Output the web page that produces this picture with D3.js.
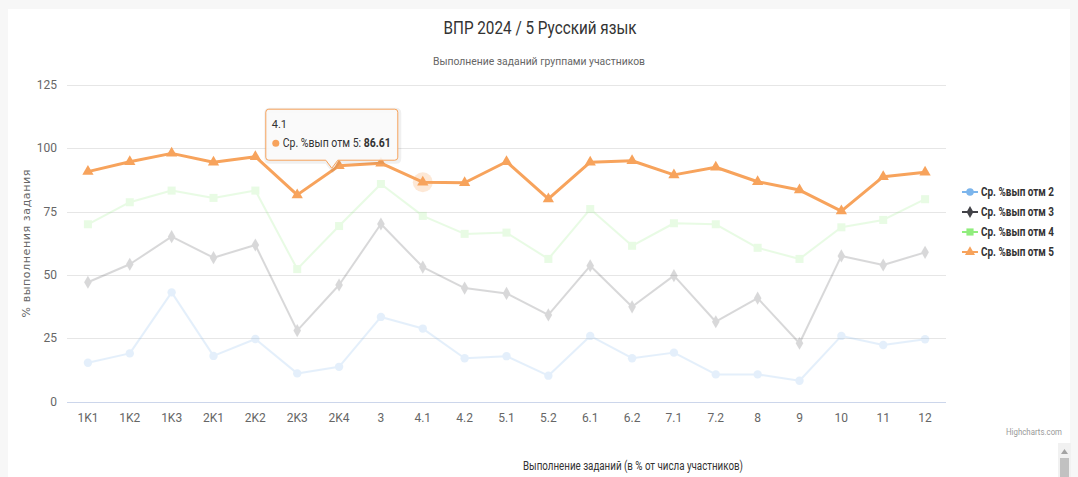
<!DOCTYPE html>
<html lang="ru">
<head>
<meta charset="UTF-8">
<title>ВПР 2024 / 5 Русский язык</title>
<script src="https://d3js.org/d3.v7.min.js"></script>
<style>
  body { margin: 0; background: #f7f7f7; }
  svg { display: block; }
  .narrow { font-family: "Roboto", "Noto Sans", sans-serif; }
  .grid line { stroke: #e6e6e6; }
</style>
</head>
<body>
<svg width="1078" height="477"></svg>
<script>
const categories = ["1K1","1K2","1K3","2K1","2K2","2K3","2K4","3","4.1","4.2","5.1","5.2","6.1","6.2","7.1","7.2","8","9","10","11","12"];
const otm2 = [15.3,19.0,43.1,18.0,24.7,11.1,13.7,33.4,28.8,17.1,17.9,10.2,25.9,17.1,19.3,10.7,10.7,8.2,25.9,22.3,24.6];
const otm3 = [47.1,54.2,65.1,56.8,61.8,28.0,46.0,70.1,53.1,44.8,42.7,34.2,53.6,37.4,49.7,31.5,40.8,23.0,57.5,53.9,58.9];
const otm4 = [70.0,78.7,83.3,80.4,83.3,52.3,69.3,85.9,73.3,66.2,66.7,56.3,76.0,61.5,70.4,70.0,60.7,56.3,68.8,71.7,79.9];
const otm5 = [90.8,94.7,98.0,94.5,96.7,81.6,93.1,94.1,86.61,86.4,94.7,80.0,94.5,95.1,89.5,92.5,86.8,83.5,75.2,88.8,90.5];
const yTicks = [0,25,50,75,100,125];

const series = [
  {name: "Ср. %вып отм 2", data: otm2, color: "#7cb5ec", symbol: d3.symbolCircle, size: 55},
  {name: "Ср. %вып отм 3", data: otm3, color: "#434348", symbol: d3.symbolDiamond, size: 50},
  {name: "Ср. %вып отм 4", data: otm4, color: "#90ed7d", symbol: d3.symbolSquare, size: 64},
  {name: "Ср. %вып отм 5", data: otm5, color: "#f7a35c", symbol: d3.symbolTriangle, size: 55}
];
const active = 3, hoverIdx = 8;

const svg = d3.select("svg");
svg.append("rect").attr("x", 8).attr("y", 9).attr("width", 1062).attr("height", 468).attr("fill", "#fff");

const x = d3.scaleBand().domain(categories).range([67, 946]);
const y = d3.scaleLinear().domain([0, 125]).range([401.5, 85]);
const cx = d => x(d) + x.bandwidth() / 2;

// squeeze a text to a given width (the original uses a condensed face)
const fit = (sel, w) => sel.attr("textLength", w).attr("lengthAdjust", "spacingAndGlyphs");

svg.append("text").attr("class", "narrow").attr("x", 540).attr("y", 34)
  .attr("text-anchor", "middle").attr("fill", "#333").style("font-size", "19px")
  .text("ВПР 2024 / 5 Русский язык").call(fit, 193);
svg.append("text").attr("class", "narrow").attr("x", 539).attr("y", 65)
  .attr("text-anchor", "middle").attr("fill", "#666").style("font-size", "11.5px")
  .text("Выполнение заданий группами участников").call(fit, 212);

// grid + y axis
const grid = svg.append("g").attr("class", "grid");
grid.selectAll("line").data(yTicks.filter(t => t > 0)).join("line")
  .attr("x1", 67).attr("x2", 946).attr("y1", d => Math.round(y(d)) + 0.5).attr("y2", d => Math.round(y(d)) + 0.5);
svg.append("line").attr("x1", 67).attr("x2", 946).attr("y1", Math.round(y(0)) + 0.5).attr("y2", Math.round(y(0)) + 0.5)
  .attr("stroke", "#ccd6eb");
svg.append("g").attr("class", "narrow").selectAll("text").data(yTicks).join("text")
  .attr("x", 57).attr("y", d => y(d) + 4).attr("text-anchor", "end").attr("fill", "#666")
  .style("font-size", "12px").text(d => d);
svg.append("text").attr("transform", `translate(30,${y(62.5)}) rotate(-90)`)
  .attr("text-anchor", "middle").attr("fill", "#666").style("font-family", "DejaVu Sans, sans-serif")
  .style("font-size", "11px").style("letter-spacing", "0.6px").text("% выполнения задания");

// x labels
svg.append("g").attr("class", "narrow").selectAll("text").data(categories).join("text")
  .attr("x", cx).attr("y", 422).attr("text-anchor", "middle").attr("fill", "#666")
  .style("font-size", "12px").text(d => d);

// series
const line = d3.line().x((d, i) => cx(categories[i])).y(d => y(d));
series.forEach((s, si) => {
  const g = svg.append("g").attr("opacity", si === active ? 1 : 0.2);
  g.append("path").datum(s.data).attr("d", line).attr("fill", "none")
    .attr("stroke", s.color).attr("stroke-width", si === active ? 3 : 2).attr("stroke-linejoin", "round");
  if (si === active) {
    g.append("circle").attr("cx", cx(categories[hoverIdx])).attr("cy", y(s.data[hoverIdx]))
      .attr("r", 10).attr("fill", s.color).attr("opacity", 0.25);
  }
  g.selectAll("path.m").data(s.data).join("path").attr("class", "m")
    .attr("transform", (d, i) => `translate(${cx(categories[i])},${y(d)})`)
    .attr("d", d3.symbol(s.symbol, s.size)).attr("fill", s.color);
});

// legend
const lg = svg.append("g").selectAll("g").data(series).join("g")
  .attr("transform", (d, i) => `translate(962,${192 + i * 20})`);
lg.append("line").attr("x1", 0).attr("x2", 16).attr("stroke", d => d.color).attr("stroke-width", 2);
lg.append("path").attr("transform", "translate(8,0)").attr("d", d => d3.symbol(d.symbol, d.size * 0.8)()).attr("fill", d => d.color);
lg.append("text").attr("class", "narrow").attr("x", 19).attr("y", 4).attr("fill", "#333").style("font-weight", "bold")
  .style("font-size", "12px").text(d => d.name).call(fit, 73);

// tooltip
const px = cx(categories[hoverIdx]), py = y(otm5[hoverIdx]);
const tipX = px - 91, tipY = py - 14;
const bx0 = tipX - 66, bx1 = tipX + 66, by0 = tipY - 59, by1 = tipY - 8;
const tip = svg.append("g");
const tpath = `M${bx0 + 3},${by0} H${bx1 - 3} Q${bx1},${by0} ${bx1},${by0 + 3} V${by1 - 3} Q${bx1},${by1} ${bx1 - 3},${by1}
  H${tipX + 6} L${tipX},${tipY} L${tipX - 6},${by1} H${bx0 + 3} Q${bx0},${by1} ${bx0},${by1 - 3} V${by0 + 3} Q${bx0},${by0} ${bx0 + 3},${by0} Z`;
tip.append("path").attr("d", tpath).attr("fill", "none").attr("stroke", "#000").attr("stroke-opacity", 0.06)
  .attr("stroke-width", 5).attr("transform", "translate(1,1)");
tip.append("path").attr("d", tpath).attr("fill", "rgba(250,250,250,0.9)").attr("stroke", "#f7a35c");
tip.append("text").attr("class", "narrow").attr("x", bx0 + 6).attr("y", by0 + 19).attr("fill", "#333")
  .style("font-size", "11px").text(categories[hoverIdx]);
tip.append("circle").attr("cx", bx0 + 10).attr("cy", by0 + 34).attr("r", 3.5).attr("fill", "#f7a35c");
const t2 = tip.append("text").attr("class", "narrow").attr("x", bx0 + 17).attr("y", by0 + 38).attr("fill", "#333").style("font-size", "12.5px");
t2.append("tspan").text(series[active].name + ": ");
t2.append("tspan").style("font-weight", "bold").text(otm5[hoverIdx].toFixed(2));
fit(t2, 108);

// credits and below-chart caption
svg.append("text").attr("class", "narrow").attr("x", 1062).attr("y", 435).attr("text-anchor", "end")
  .attr("fill", "#999").style("font-size", "9.5px").text("Highcharts.com").call(fit, 56);
svg.append("text").attr("class", "narrow").attr("x", 633).attr("y", 470).attr("text-anchor", "middle")
  .attr("fill", "#333").style("font-size", "12px").text("Выполнение заданий (в % от числа участников)").call(fit, 220);

// scrollbar stub
svg.append("rect").attr("x", 1058).attr("y", 443).attr("width", 13).attr("height", 34).attr("fill", "#f1f1f1");
svg.append("path").attr("d", "M1061,454 L1064.5,449 L1068,454 Z").attr("fill", "#a3a3a3");
svg.append("rect").attr("x", 1060).attr("y", 458).attr("width", 9).attr("height", 19).attr("fill", "#c1c1c1");
</script>
</body>
</html>
